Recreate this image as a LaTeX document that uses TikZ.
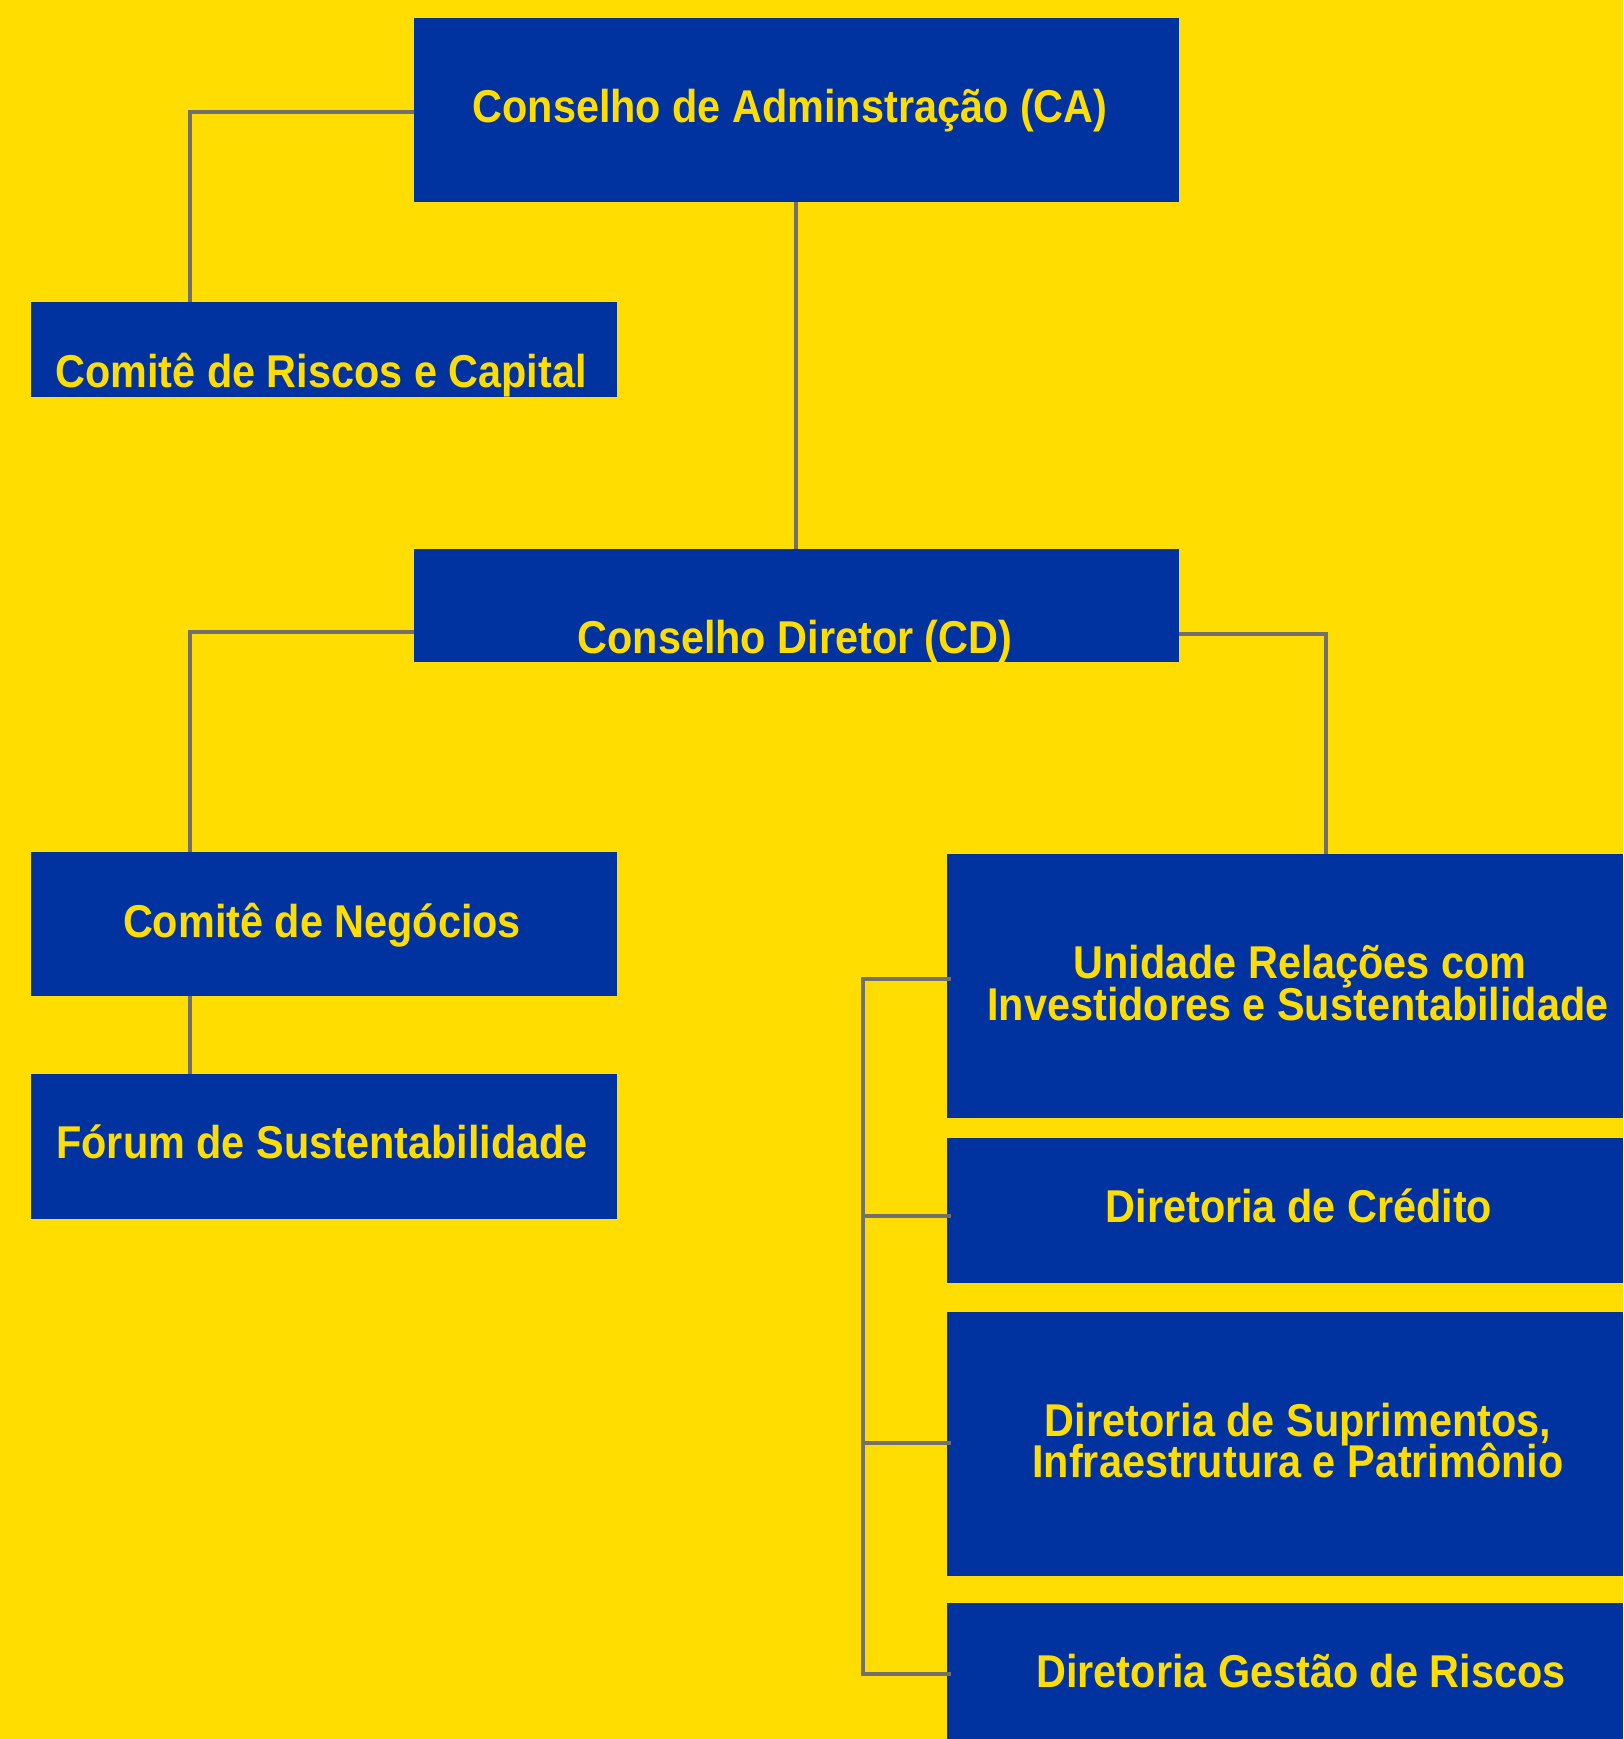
\documentclass[tikz,border=0pt]{standalone}
\usepackage{fontspec}
\setmainfont{Liberation Sans}[FakeStretch=0.9]
\definecolor{bgyellow}{RGB}{255,221,0}
\definecolor{boxblue}{RGB}{0,51,160}
\definecolor{linegray}{RGB}{112,112,112}
\begin{document}
\begin{tikzpicture}[x=1pt,y=-1pt,
  box/.style={fill=boxblue, draw=none, inner sep=0pt, anchor=north west},
  lbl/.style={text=bgyellow, font=\fontsize{46}{42}\selectfont\bfseries, inner sep=0pt, anchor=base},
  link/.style={draw=linegray, line width=4pt}]
\fill[bgyellow] (0,0) rectangle (1623,1739);
\useasboundingbox (0,0) rectangle (1623,1739);

% boxes
\node[box, minimum width=765pt, minimum height=184pt] (ca) at (414,18) {};
\node[box, minimum width=586pt, minimum height=95pt] (rc) at (31,302) {};
\node[box, minimum width=765pt, minimum height=113pt] (cd) at (414,549) {};
\node[box, minimum width=586pt, minimum height=144pt] (ng) at (31,852) {};
\node[box, minimum width=586pt, minimum height=145pt] (fr) at (31,1074) {};
\node[box, minimum width=676pt, minimum height=264pt] (un) at (947,854) {};
\node[box, minimum width=676pt, minimum height=145pt] (cr) at (947,1138) {};
\node[box, minimum width=676pt, minimum height=264pt] (su) at (947,1312) {};
\node[box, minimum width=676pt, minimum height=136pt] (gs) at (947,1603) {};

% connectors
\draw[link] ([yshift=-2pt]ca.west) -| ([xshift=-134pt]rc.north);
\draw[link] ([xshift=-0.5pt]ca.south) -- ([xshift=-0.5pt]cd.north);
\draw[link] ([yshift=-26.5pt]cd.west) -| ([xshift=-134pt]ng.north);
\draw[link] ([xshift=-134pt]ng.south) -- ([xshift=-134pt]fr.north);
\draw[link] ([yshift=-28.5pt]cd.east) -| ([xshift=41pt]un.north);
\draw[link] ([yshift=7pt,xshift=4pt]un.west) -- ++(-88,0) |- ([yshift=-3pt,xshift=4pt]gs.west);
\draw[link] ([yshift=-5.5pt,xshift=4pt]cr.west) -- ++(-88,0);
\draw[link] ([yshift=1pt,xshift=4pt]su.west) -- ++(-88,0);

% labels
\node[lbl] (caT) at (790,123) {Conselho de Adminstração (CA)};
\node[lbl] (rcT) at (321,387) {Comitê de Riscos e Capital};
\node[lbl] (cdT) at (795,653) {Conselho Diretor (CD)};
\node[lbl] (ngT) at (322,937) {Comitê de Negócios};
\node[lbl] (frT) at (322,1158) {Fórum de Sustentabilidade};
\node[lbl] (un1) at (1300,978) {Unidade Relações com};
\node[lbl] (un2) at (1298,1020) {Investidores e Sustentabilidade};
\node[lbl] (crT) at (1299,1222) {Diretoria de Crédito};
\node[lbl] (su1) at (1298,1436) {Diretoria de Suprimentos,};
\node[lbl] (su2) at (1298,1477) {Infraestrutura e Patrimônio};
\node[lbl] (gsT) at (1301,1687) {Diretoria Gestão de Riscos};
\end{tikzpicture}
\end{document}
